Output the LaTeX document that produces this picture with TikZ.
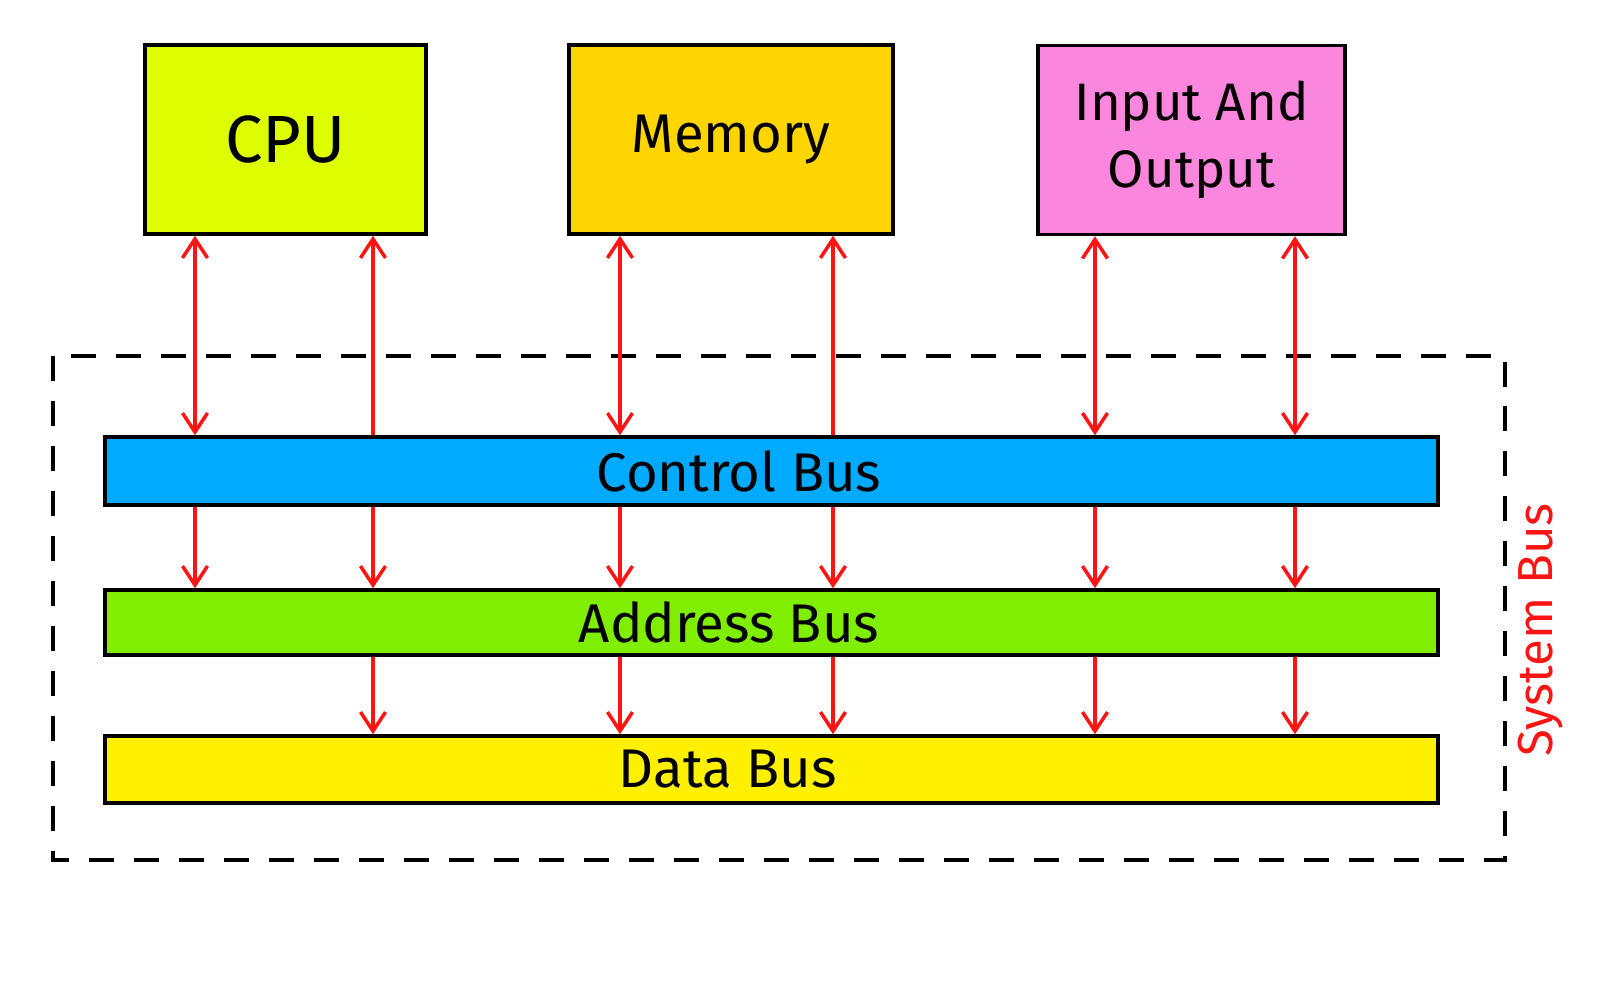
\documentclass[tikz,border=0pt]{standalone}
\usepackage{fontspec}
\setmainfont{Fira Sans}
\usetikzlibrary{arrows.meta}

\definecolor{cpucol}{RGB}{221,255,0}
\definecolor{memcol}{RGB}{255,213,0}
\definecolor{iocol}{RGB}{250,134,222}
\definecolor{ctrlcol}{RGB}{0,170,255}
\definecolor{addrcol}{RGB}{128,238,0}
\definecolor{datacol}{RGB}{255,240,0}
\definecolor{buscol}{RGB}{255,20,20}

\tikzset{
  >={Straight Barb[length=0.38cm,width=0.5cm,line width=2pt]},
  unitbox/.style={draw=black, line width=2pt, inner sep=0pt, align=center,
    minimum height=3.78cm, font=\fontsize{38}{46}\selectfont},
  busbox/.style={draw=black, line width=2pt, inner sep=0pt,
    minimum width=26.66cm, font=\fontsize{31}{36}\selectfont},
  link/.style={draw=buscol, line width=2pt},
}

\begin{document}
\begin{tikzpicture}[x=0.02cm, y=-0.02cm]
\useasboundingbox (0,0) rectangle (1600,983);

% units on top
\node[unitbox, fill=cpucol, minimum width=5.62cm] (cpu) at (285.5,139.5) {CPU};
\node[unitbox, fill=memcol, minimum width=6.48cm, font=\fontsize{31}{40}\selectfont] (mem) at (731,139.5) {Memory};
\node[unitbox, fill=iocol, minimum width=6.14cm, font=\fontsize{30}{38}\selectfont] (io) at (1191.5,140) {Input And\\Output};

% the three buses
\node[busbox, fill=ctrlcol, minimum height=1.36cm] (ctrl) at (771.5,471) {Control Bus\hspace*{1.3cm}};
\node[busbox, fill=addrcol, minimum height=1.30cm] (addr) at (771.5,622.5) {Address Bus\hspace*{1.7cm}};
\node[busbox, fill=datacol, minimum height=1.34cm] (data) at (771.5,769.5) {Data Bus\hspace*{1.75cm}};

% system bus frame
\draw[line width=2pt, dash pattern=on 0.5cm off 0.4cm] (53,356) rectangle (1505,860);
\node[rotate=90, text=buscol, font=\fontsize{28}{32}\selectfont] (sys) at (1540,630) {System Bus};

% line positions
\coordinate (l1) at (195,0);
\coordinate (l2) at (373,0);
\coordinate (l3) at (620,0);
\coordinate (l4) at (833,0);
\coordinate (l5) at (1095,0);
\coordinate (l6) at (1295,0);

% units to control bus
\draw[link, <->] (cpu.south -| l1) -- (ctrl.north -| l1);
\draw[link, <-] (cpu.south -| l2) -- (ctrl.north -| l2);
\draw[link, <->] (mem.south -| l3) -- (ctrl.north -| l3);
\draw[link, <-] (mem.south -| l4) -- (ctrl.north -| l4);
\draw[link, <->] (io.south -| l5) -- (ctrl.north -| l5);
\draw[link, <->] (io.south -| l6) -- (ctrl.north -| l6);

% control bus to address bus
\foreach \l in {l1,l2,l3,l4,l5,l6}
  \draw[link, ->] (ctrl.south -| \l) -- (addr.north -| \l);

% address bus to data bus
\foreach \l in {l2,l3,l4,l5,l6}
  \draw[link, ->] (addr.south -| \l) -- (data.north -| \l);
\end{tikzpicture}
\end{document}
